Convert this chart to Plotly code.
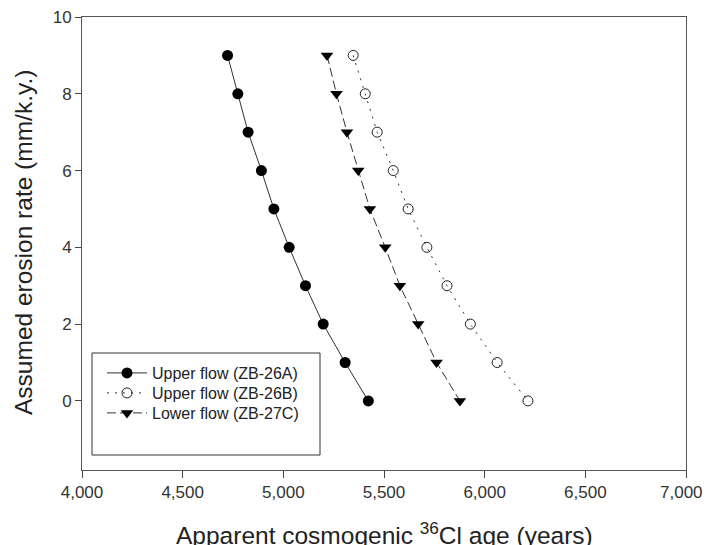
import plotly.graph_objects as go

erosion_rate = [9, 8, 7, 6, 5, 4, 3, 2, 1, 0]
age_zb26a = [4723, 4774, 4825, 4891, 4953, 5029, 5110, 5198, 5307, 5422]
age_zb26b = [5347, 5407, 5466, 5546, 5620, 5713, 5813, 5929, 6062, 6215]
age_zb27c = [5217, 5264, 5316, 5372, 5430, 5506, 5579, 5670, 5761, 5877]
names = ["Upper flow (ZB-26A)", "Upper flow (ZB-26B)", "Lower flow (ZB-27C)"]
x_ticks = [4000, 4500, 5000, 5500, 6000, 6500, 7000]
x_tick_labels = ["4,000", "4,500", "5,000", "5,500", "6,000", "6,500", "7,000\u00a0\u00a0"]
y_ticks = [0, 2, 4, 6, 8, 10]

FONT = "Liberation Sans, Arial, sans-serif"
LINE = "#333333"

# page body has an 8px margin; design in page pixels and convert
OFF = 8
W, H = 711 - OFF, 545 - OFF
L, R, T = 82 - OFF, 25, 17 - OFF
B = OFF + H - 470
pw = W - L - R
ph = H - T - B

def px_x(p):
    return (p - OFF - L) / pw

def px_y(p):
    return (H - B - (p - OFF)) / ph

fig = go.Figure()
fig.add_trace(go.Scatter(
    x=age_zb26a, y=erosion_rate, name=names[0], mode="lines+markers",
    line=dict(color=LINE, width=1, dash="solid"),
    marker=dict(symbol="circle", size=11, color="black", line=dict(width=0)),
    legend="legend",
))
fig.add_trace(go.Scatter(
    x=age_zb26b, y=erosion_rate, name=names[1], mode="lines+markers",
    line=dict(color=LINE, width=1, dash="2px,6px"),
    marker=dict(symbol="circle-open", size=10, color="#222222", line=dict(width=1)),
    legend="legend2",
))
fig.add_trace(go.Scatter(
    x=age_zb27c, y=erosion_rate, name=names[2], mode="lines+markers",
    line=dict(color=LINE, width=1, dash="9px,4px"),
    marker=dict(symbol="triangle-down", size=11, color="black", line=dict(width=0)),
    legend="legend3",
))

def leg(row_y):
    return dict(
        x=px_x(102), y=px_y(row_y), xanchor="left", yanchor="middle",
        bgcolor="rgba(0,0,0,0)", borderwidth=0,
        font=dict(family=FONT, size=16, color="#222222"),
        itemwidth=40,
    )

axis_common = dict(
    ticks="outside", tickwidth=1, tickcolor="#444444",
    showline=True, linecolor="#555555", linewidth=1, mirror=True,
    showgrid=False, zeroline=False, automargin=False,
    ticklabeloverflow="allow",
    tickfont=dict(family=FONT, size=17, color="#333333"),
)

fig.update_layout(
    width=W, height=H,
    margin=dict(l=L, r=R, t=T, b=B, pad=0),
    paper_bgcolor="white", plot_bgcolor="white",
    font=dict(family=FONT, color="#222222"),
    showlegend=True,
    legend=leg(373),
    legend2=leg(393),
    legend3=leg(413),
    xaxis=dict(range=[4000, 7000], tickvals=x_ticks, ticktext=x_tick_labels,
               ticklen=7, **axis_common),
    yaxis=dict(range=[-1.8, 10], tickvals=y_ticks,
               ticklen=6, **axis_common),
    shapes=[dict(
        type="rect", xref="paper", yref="paper",
        x0=px_x(92), x1=px_x(320), y0=px_y(455), y1=px_y(353),
        line=dict(color="#333333", width=1), fillcolor="rgba(0,0,0,0)",
    )],
    annotations=[
        dict(text="Apparent cosmogenic <sup>36</sup>Cl age (years)",
             xref="paper", yref="paper", x=px_x(384), y=px_y(516),
             xanchor="center", yanchor="top", showarrow=False,
             font=dict(family=FONT, size=24.5, color="#222222")),
        dict(text="Assumed erosion rate (mm/k.y.)",
             xref="paper", yref="paper", x=px_x(23), y=px_y(243),
             xanchor="center", yanchor="middle", textangle=-90, showarrow=False,
             font=dict(family=FONT, size=24.5, color="#222222")),
    ],
)

fig.write_html("out.html")
